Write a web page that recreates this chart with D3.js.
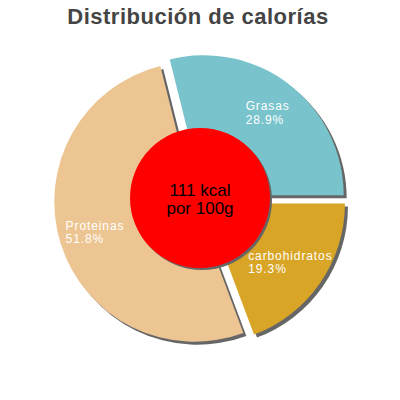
<!DOCTYPE html>
<html>
<head>
<meta charset="utf-8">
<style>
	body { margin: 0; background: #fff; }
	text { font-family: "Liberation Sans", Arial, sans-serif; }
</style>
</head>
<body>
<svg width="400" height="400"></svg>
<script src="https://cdn.jsdelivr.net/npm/d3@7"></script>
<script>
	// clockwise from 3 o'clock
	var categories = ["carbohidratos", "Proteinas", "Grasas"];
	var percents = [19.3, 51.8, 28.9];
	var colors = ["#d9a526", "#edc592", "#79c4cc"];
	var titleText = "Distribución de calorías";
	var centerLines = ["111 kcal", "por 100g"];

	var cx = 200, cy = 200, R = 140, r0 = 70, explode = 6, shadowOff = 3;

	var svg = d3.select("svg");

	svg.append("text")
		.attr("x", 198).attr("y", 24)
		.attr("text-anchor", "middle")
		.style("font-size", "22px").style("font-weight", "bold")
		.style("letter-spacing", "0.5px")
		.style("fill", "#444")
		.text(titleText);

	var pie = d3.pie().sort(null)
		.startAngle(Math.PI / 2).endAngle(Math.PI / 2 + 2 * Math.PI);
	var arcs = pie(percents);
	var arc = d3.arc().innerRadius(0).outerRadius(R);

	function shift(d) {
		var a = (d.startAngle + d.endAngle) / 2;
		return [Math.sin(a) * explode, -Math.cos(a) * explode];
	}

	var g = svg.append("g").attr("transform", "translate(" + cx + "," + cy + ")");

	// shadows first
	g.selectAll("path.shadow").data(arcs).enter().append("path")
		.attr("class", "shadow")
		.attr("d", arc)
		.attr("fill", "#666")
		.attr("transform", function(d){ var s = shift(d); return "translate(" + (s[0] + shadowOff) + "," + (s[1] + shadowOff) + ")"; });

	g.selectAll("path.slice").data(arcs).enter().append("path")
		.attr("class", "slice")
		.attr("d", arc)
		.attr("fill", function(d, i){ return colors[i]; })
		.attr("transform", function(d){ var s = shift(d); return "translate(" + s[0] + "," + s[1] + ")"; });

	// labels, block centred on bisector
	var labelR = 110;
	arcs.forEach(function(d, i){
		var a = (d.startAngle + d.endAngle) / 2;
		var px = Math.sin(a) * labelR, py = -Math.cos(a) * labelR;
		var t = g.append("text")
			.style("font-size", "12px").style("letter-spacing", "0.9px")
			.style("fill", "#fff");
		var l1 = t.append("tspan").attr("y", py - 3).text(categories[i]);
		var l2 = t.append("tspan").attr("y", py + 10.5).text(percents[i].toFixed(1) + "%");
		var w = Math.max(l1.node().getComputedTextLength(), l2.node().getComputedTextLength());
		l1.attr("x", px - w / 2);
		l2.attr("x", px - w / 2);
	});

	// centre disc
	g.append("circle").attr("cx", shadowOff - 1).attr("cy", shadowOff - 1 - 2).attr("r", r0).attr("fill", "#666");
	g.append("circle").attr("cx", 0).attr("cy", -2).attr("r", r0).attr("fill", "#ff0000");
	g.selectAll("text.center").data(centerLines).enter().append("text")
		.attr("class", "center")
		.attr("x", 0)
		.attr("y", function(d, i){ return -4 + i * 18; })
		.attr("text-anchor", "middle")
		.style("font-size", "17px")
		.style("fill", "#000")
		.text(function(d){ return d; });
</script>
</body>
</html>
